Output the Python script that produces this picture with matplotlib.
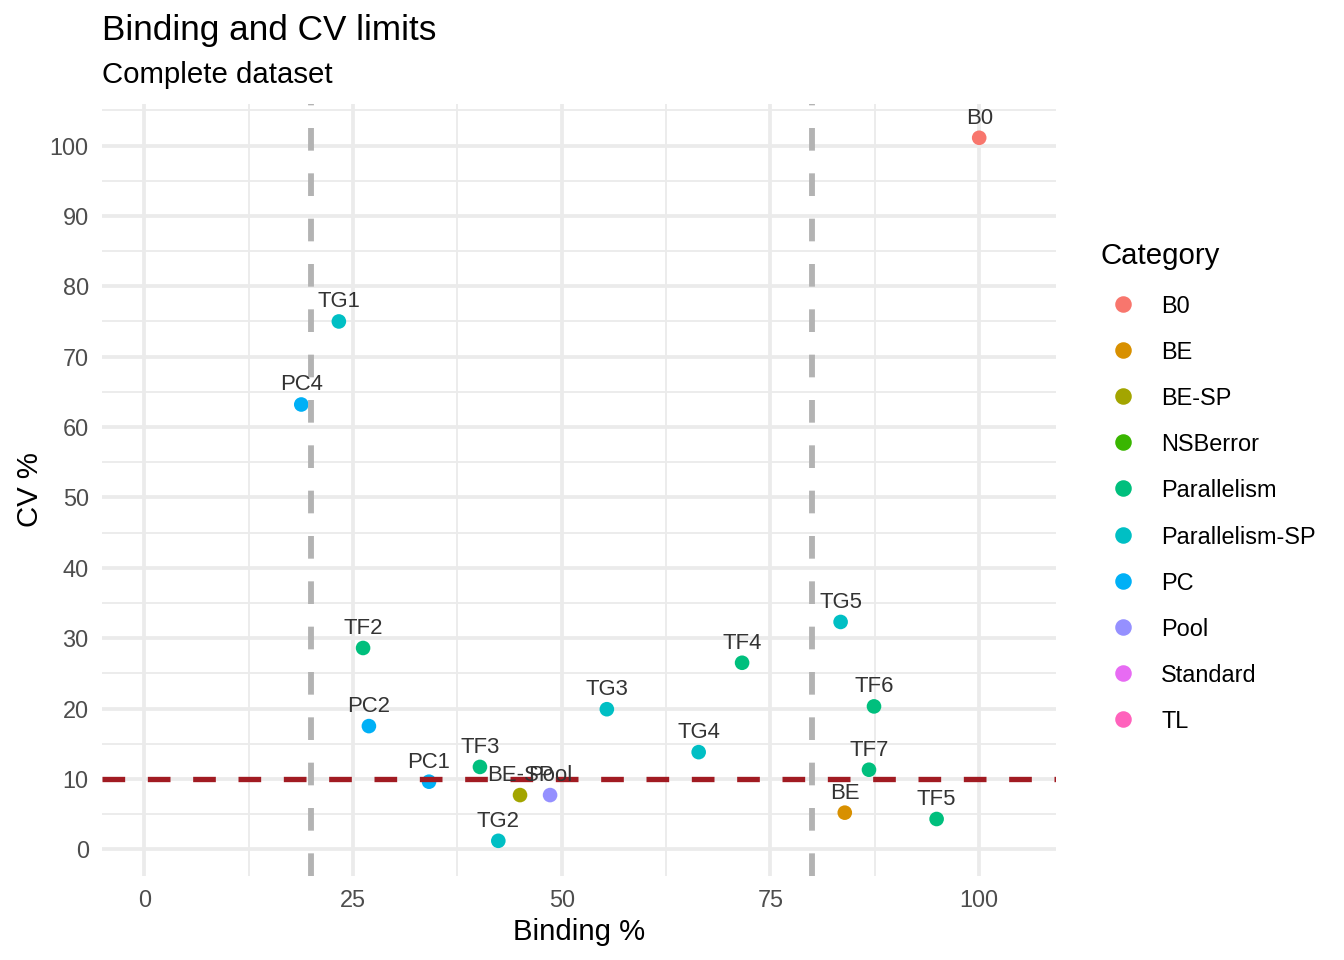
import matplotlib
matplotlib.use("Agg")
import matplotlib.pyplot as plt
from matplotlib.ticker import MultipleLocator

# Datos
labels = ["B0", "TG1", "PC4", "TF2", "PC2", "PC1", "TF3", "BE-SP", "Pool", "TG2",
          "TG3", "TG4", "TF4", "TG5", "TF6", "TF7", "BE", "TF5"]
binding = [100.0, 23.3, 18.8, 26.2, 26.9, 34.1, 40.2, 45.0, 48.6, 42.4,
           55.4, 66.4, 71.6, 83.4, 87.4, 86.8, 83.9, 94.9]
cv = [101.1, 75.0, 63.2, 28.6, 17.5, 9.6, 11.7, 7.7, 7.7, 1.2,
      19.9, 13.8, 26.5, 32.3, 20.3, 11.3, 5.2, 4.3]
point_cat = ["B0", "Parallelism-SP", "PC", "Parallelism", "PC", "PC", "Parallelism",
             "BE-SP", "Pool", "Parallelism-SP", "Parallelism-SP", "Parallelism-SP",
             "Parallelism", "Parallelism-SP", "Parallelism", "Parallelism", "BE",
             "Parallelism"]

categories = ["B0", "BE", "BE-SP", "NSBerror", "Parallelism", "Parallelism-SP",
              "PC", "Pool", "Standard", "TL"]
cat_colors = ["#F8766D", "#D89000", "#A3A500", "#39B600", "#00BF7D", "#00BFC4",
              "#00B0F6", "#9590FF", "#E76BF3", "#FF62BC"]

binding_limits = [20, 80]
cv_limit = 10

plt.rcParams["font.family"] = ["Liberation Sans", "DejaVu Sans"]
plt.rcParams["lines.scale_dashes"] = False

W, H = 1344, 960
fig = plt.figure(figsize=(7, 5), dpi=192)
ax = fig.add_axes([102 / W, 1 - 876 / H, (1056 - 102) / W, (876 - 104) / H])

ax.set_xlim(-5.07, 109.2)
ax.set_ylim(-3.8, 105.9)
for s in ax.spines.values():
    s.set_visible(False)

ax.xaxis.set_major_locator(MultipleLocator(25))
ax.xaxis.set_minor_locator(MultipleLocator(12.5))
ax.yaxis.set_major_locator(MultipleLocator(10))
ax.yaxis.set_minor_locator(MultipleLocator(5))
ax.grid(which="major", color="#EBEBEB", linewidth=1.42)
ax.grid(which="minor", color="#EBEBEB", linewidth=0.71)
ax.set_axisbelow(True)
ax.tick_params(which="both", length=0, labelsize=8.8, labelcolor="#4D4D4D", pad=5)

colour_of = dict(zip(categories, cat_colors))
ax.scatter(binding, cv, s=30, c=[colour_of[c] for c in point_cat],
           linewidths=0, zorder=3)

for xv in binding_limits:
    ax.axvline(xv, color="#B3B3B3", linewidth=2.2, dashes=(8.5, 8.5), zorder=4)
ax.axhline(cv_limit, color="#A11B22", linewidth=2.0, dashes=(8.5, 8.5), zorder=4)

for lab, xv, yv in zip(labels, binding, cv):
    ax.annotate(lab, (xv, yv), xytext=(0, 5.3), textcoords="offset points",
                ha="center", va="baseline", fontsize=8.3, color="#333333", zorder=5)

ax.set_xlabel("Binding %", fontsize=11, labelpad=2)
ax.set_ylabel("CV %", fontsize=11, labelpad=2)

fig.text(102 / W, 1 - 40 / H, "Binding and CV limits", fontsize=13.2, va="baseline")
fig.text(102 / W, 1 - 83 / H, "Complete dataset", fontsize=11, va="baseline")

# Leyenda
fig.text(1100 / W, 1 - 264 / H, "Category", fontsize=11, va="baseline")
for i, (cat, col) in enumerate(zip(categories, cat_colors)):
    ypx = 304 + i * 46.1
    fig.add_artist(plt.Line2D([1123 / W], [1 - ypx / H], marker="o", markersize=5.2,
                              color=col, linestyle="none", transform=fig.transFigure))
    fig.text(1161 / W, 1 - ypx / H, cat, fontsize=8.8, va="center_baseline")

fig.savefig("out.png", dpi=192)
